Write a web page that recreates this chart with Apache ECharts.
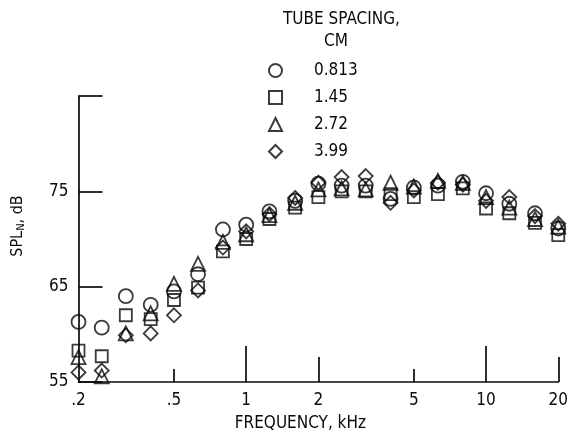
<!DOCTYPE html>
<html>
<head>
<meta charset="utf-8">
<script src="https://cdn.jsdelivr.net/npm/echarts@6/dist/echarts.min.js"></script>
<style>
  html, body { margin: 0; padding: 0; background: #fff; }
  #chart { width: 571px; height: 437px; }
</style>
</head>
<body>
<div id="chart"></div>
<script>
// One-third-octave band centre frequencies, kHz
const freqKHz = [0.2, 0.25, 0.315, 0.4, 0.5, 0.63, 0.8, 1, 1.25, 1.6, 2, 2.5, 3.15, 4, 5, 6.3, 8, 10, 12.5, 16, 20];

// Normalized SPL, dB, for each tube spacing (cm)
const spl_0813 = [61.3, 60.7, 64.0, 63.1, 64.5, 66.3, 71.0, 71.5, 72.9, 74.0, 75.8, 75.6, 75.6, 74.2, 75.4, 75.6, 76.0, 74.8, 73.7, 72.7, 71.1];
const spl_145  = [58.3, 57.7, 62.0, 61.6, 63.6, 64.9, 68.7, 70.0, 72.1, 73.3, 74.4, 75.0, 75.0, 74.7, 74.4, 74.7, 75.3, 73.2, 72.7, 71.7, 70.4];
const spl_272  = [57.6, 55.6, 60.1, 62.2, 65.3, 67.4, 69.7, 70.5, 72.5, 73.8, 75.2, 75.3, 75.2, 75.9, 75.5, 76.1, 75.9, 74.4, 73.3, 72.1, 71.3];
const spl_399  = [56.0, 56.2, 59.9, 60.1, 62.0, 64.6, 69.1, 70.8, 72.6, 74.3, 75.9, 76.5, 76.6, 73.8, 75.1, 75.9, 75.7, 74.0, 74.4, 72.4, 71.6];

const spacingNames = ['0.813', '1.45', '2.72', '3.99'];
const seriesValues = [spl_0813, spl_145, spl_272, spl_399];
const symbols = ['circle', 'rect', 'triangle', 'diamond'];

// Tick labels and tick positions on the frequency axis
const xLabelValues = [0.2, 0.5, 1, 2, 5, 10, 20];
const xLabelText = { 0.2: '.2', 0.5: '.5', 1: '1', 2: '2', 5: '5', 10: '10', 20: '20' };
const xTicksLong = [1, 10];
const xTicksMid = [2, 20];
const xTicksShort = [0.5, 5];

const FONT = '"DejaVu Sans Condensed", "Liberation Sans", sans-serif';
const INK = '#0a0a0a';

const chart = echarts.init(document.getElementById('chart'), null, { renderer: 'canvas' });

function freqAxis(ticks, tickLen, showMain) {
  return {
    type: 'log',
    logBase: 10,
    min: 0.2,
    max: 20,
    gridIndex: 0,
    position: 'bottom',
    name: showMain ? 'FREQUENCY, kHz' : '',
    nameLocation: 'middle',
    nameGap: 33,
    nameTextStyle: { fontFamily: FONT, fontSize: 17, color: INK, padding: [0, 36, 0, 0], letterSpacing: 1.2 },
    axisLine: { show: showMain, lineStyle: { color: INK, width: 1.7 } },
    axisTick: { show: true, inside: true, length: tickLen, customValues: ticks, lineStyle: { color: INK, width: 1.7 } },
    axisLabel: {
      show: showMain,
      customValues: xLabelValues,
      formatter: v => xLabelText[+(+v).toPrecision(3)] || '',
      fontFamily: FONT, fontSize: 17, color: INK, margin: 10
    },
    splitLine: { show: false },
    minorTick: { show: false }
  };
}

const series = spacingNames.map((name, i) => ({
  name: name,
  type: 'scatter',
  xAxisIndex: 0,
  yAxisIndex: 0,
  symbol: symbols[i],
  symbolSize: symbols[i] === 'rect' ? 12 : 14,
  clip: false,
  itemStyle: { color: 'rgba(0,0,0,0)', borderColor: INK, borderWidth: 1.8 },
  data: freqKHz.map((f, k) => [f, seriesValues[i][k]])
}));

chart.setOption({
  backgroundColor: '#fff',
  animation: false,
  grid: { left: 74, right: 8, top: 96, bottom: 55, containLabel: false },
  xAxis: [
    freqAxis(xTicksLong, 36, true),
    freqAxis(xTicksMid, 25, false),
    freqAxis(xTicksShort, 13, false)
  ],
  yAxis: {
    type: 'value',
    min: 55,
    max: 85,
    interval: 10,
    name: '{a|SPL}{s|N}{a|, dB}',
    nameLocation: 'middle',
    nameGap: 50,
    nameRotate: 90,
    nameTextStyle: {
      rich: {
        a: { fontFamily: FONT, fontSize: 16, color: INK, lineHeight: 22 },
        s: { fontFamily: FONT, fontSize: 11, color: INK, lineHeight: 22, padding: [8, 0, 0, 0] }
      },
      padding: [0, 0, 0, 26]
    },
    axisLine: { show: true, lineStyle: { color: INK, width: 1.7 } },
    axisTick: { show: true, inside: true, length: 24, lineStyle: { color: INK, width: 1.7 } },
    axisLabel: {
      formatter: v => (v === 85 ? '' : String(v)),
      fontFamily: FONT, fontSize: 17, color: INK, margin: 10
    },
    splitLine: { show: false }
  },
  legend: {
    orient: 'vertical',
    left: 263,
    top: 57,
    itemWidth: 13,
    itemHeight: 13,
    itemGap: 10,
    data: spacingNames.map((n, i) => ({ name: n, icon: symbols[i] })),
    textStyle: { fontFamily: FONT, fontSize: 17, color: INK, padding: [0, 0, 0, 27] },
    selectedMode: false
  },
  graphic: [
    { type: 'text', left: 283, top: 11, style: { text: 'TUBE SPACING,', font: '17px ' + FONT, fill: INK, letterSpacing: 0.6 } },
    { type: 'text', left: 324, top: 33, style: { text: 'CM', font: '17px ' + FONT, fill: INK } }
  ],
  series: series
});
</script>
</body>
</html>
